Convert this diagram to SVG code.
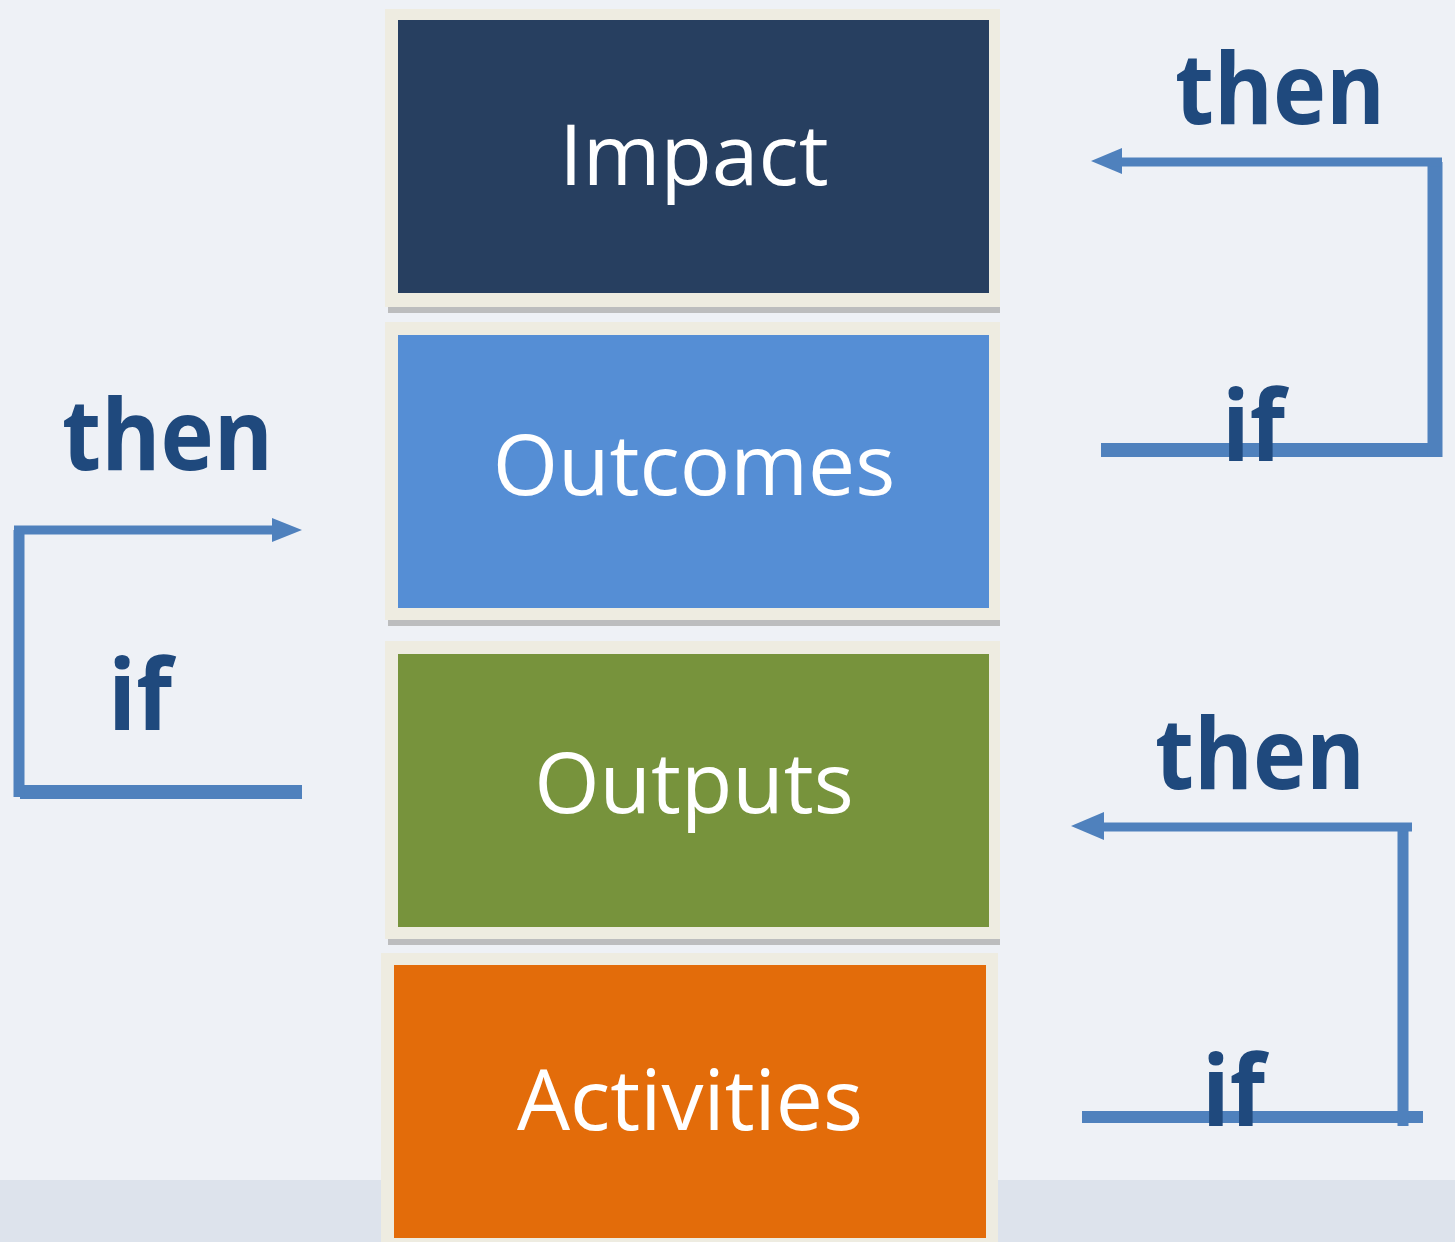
<svg xmlns="http://www.w3.org/2000/svg" width="1455" height="1242" viewBox="0 0 1455 1242">
<defs>
<style>
.frame{fill:#eeece1}
.shadow{fill:#a6a6a6;opacity:0.7}
.lbl{font-family:"Open Sans","Noto Sans",sans-serif;font-size:84px;fill:#ffffff;text-anchor:middle}
.kw{font-family:"Open Sans","Noto Sans",sans-serif;font-weight:bold;font-size:98px;fill:#1f497d}
.ln{fill:none;stroke:#4f81bd;stroke-linejoin:miter;stroke-linecap:butt}
.ah{fill:#4f81bd}
</style>
</defs>
<rect width="1455" height="1242" fill="#eef1f6"/>
<rect x="0" y="1180" width="1455" height="62" fill="#dde3ec"/>
<g id="impact">
<rect class="shadow" x="388" y="305" width="612" height="8"/>
<rect class="frame" x="385" y="9" width="615" height="298"/>
<rect x="398" y="20" width="591" height="273" fill="#273f60"/>
<text class="lbl" x="694" y="185">Impact</text>
</g>
<g id="outcomes">
<rect class="shadow" x="388" y="618" width="612" height="8"/>
<rect class="frame" x="385" y="322" width="615" height="298"/>
<rect x="398" y="335" width="591" height="273" fill="#558ed5"/>
<text class="lbl" x="694" y="495">Outcomes</text>
</g>
<g id="outputs">
<rect class="shadow" x="388" y="937" width="612" height="8"/>
<rect class="frame" x="385" y="641" width="615" height="298"/>
<rect x="398" y="654" width="591" height="273" fill="#77933c"/>
<text class="lbl" x="694" y="813">Outputs</text>
</g>
<g id="activities">
<rect class="frame" x="381" y="953" width="617" height="289"/>
<rect x="394" y="965" width="592" height="273" fill="#e36c0a"/>
<text class="lbl" x="690" y="1130">Activities</text>
</g>
<g id="connectors">
<path class="ln" d="M302 792 H20" stroke-width="14"/>
<path class="ln" d="M19 797 V530" stroke-width="11"/>
<path class="ln" d="M14 530 H276" stroke-width="9"/>
<polygon class="ah" points="302,530 272,518 272,542"/>
<path class="ln" d="M1101 450 H1442" stroke-width="14"/>
<path class="ln" d="M1435 457 V162" stroke-width="15"/>
<path class="ln" d="M1442 162 H1120" stroke-width="9"/>
<polygon class="ah" points="1091,161 1122,148 1122,174"/>
<path class="ln" d="M1082 1117 H1423" stroke-width="12"/>
<path class="ln" d="M1403 1126 V827" stroke-width="11"/>
<path class="ln" d="M1412 827 H1100" stroke-width="9"/>
<polygon class="ah" points="1071,826 1104,812 1104,840"/>
</g>
<g id="labels">
<text class="kw" x="62" y="470" textLength="211" lengthAdjust="spacingAndGlyphs">then</text>
<text class="kw" x="108" y="730" textLength="64" lengthAdjust="spacingAndGlyphs">if</text>
<text class="kw" x="1175" y="124" textLength="210" lengthAdjust="spacingAndGlyphs">then</text>
<text class="kw" x="1222" y="461" textLength="63" lengthAdjust="spacingAndGlyphs">if</text>
<text class="kw" x="1155" y="789" textLength="210" lengthAdjust="spacingAndGlyphs">then</text>
<text class="kw" x="1202" y="1126" textLength="63" lengthAdjust="spacingAndGlyphs">if</text>
</g>
</svg>
